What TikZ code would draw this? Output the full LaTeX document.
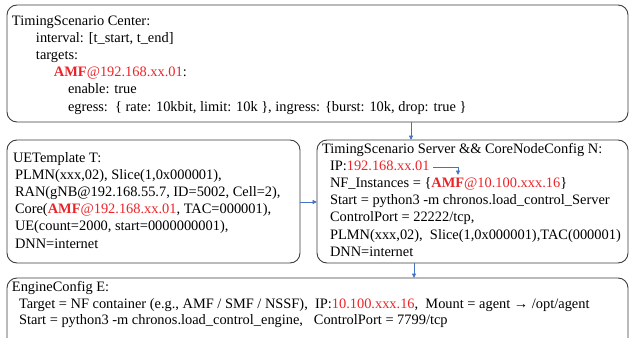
\documentclass[tikz,border=0pt]{standalone}
\usepackage{fontspec}
\setmainfont{Liberation Serif}
\usetikzlibrary{arrows.meta}
\definecolor{boxline}{RGB}{60,60,60}
\definecolor{arrblue}{RGB}{68,114,196}
\definecolor{hired}{RGB}{235,35,40}
\newcommand{\hl}[1]{\textcolor{hired}{#1}}
\newcommand{\hlb}[1]{\textcolor{hired}{\textbf{#1}}}
\begin{document}
\begin{tikzpicture}[x=1pt,y=-1pt,
  cbox/.style={draw=boxline, line width=0.9pt, rounded corners=10pt, inner sep=0pt, outer sep=0pt},
  txt/.style={anchor=north west, align=left, inner sep=0pt, outer sep=0pt,
    font=\fontsize{14.4}{17.2}\selectfont},
  arr/.style={draw=arrblue, line width=0.8pt, -{Triangle[length=4.5pt,width=4pt]}}]
\path[use as bounding box] (0,0) rectangle (631,337);
\clip (0,0) rectangle (631,337);
% boxes
\node[cbox, minimum width=621pt, minimum height=117pt] (top) at (317.5,63.5) {};
\node[cbox, minimum width=293pt, minimum height=123pt] (ue) at (153.5,201.5) {};
\node[cbox, minimum width=311pt, minimum height=123pt] (srv) at (472.5,201.5) {};
\node[cbox, minimum width=621pt, minimum height=70pt] (eng) at (317.5,313) {};
% texts
\node[txt] (ttop) at (12,12.96) {\strut TimingScenario Center:\\
\hspace*{24pt}interval: [t\_start, t\_end]\\
\hspace*{24pt}targets:\\
\hspace*{42pt}\hlb{AMF}\hl{@192.168.xx.01}:\\
\hspace*{56pt}enable: true\\
\hspace*{56pt}egress:\ \ \{ rate: 10kbit, limit: 10k \}, ingress: \{burst: 10k, drop: true \}};
\node[txt] (tue) at (13,149.96) {\strut UETemplate T:\\
\hspace*{2pt}PLMN(xxx,02), Slice(1,0x000001),\\
\hspace*{2pt}RAN(gNB@192.168.55.7, ID=5002, Cell=2),\\
\hspace*{2pt}Core(\hlb{AMF}\hl{@192.168.xx.01}, TAC=000001),\\
\hspace*{2pt}UE(count=2000, start=0000000001),\\
\hspace*{2pt}DNN=internet};
\node[txt] (tsrv) at (322,140.96) {\strut TimingScenario Server \&\& CoreNodeConfig N:\\
\hspace*{8pt}IP:\hl{192.168.xx.01}\\
\hspace*{8pt}NF\_Instances = \{\hlb{AMF}\hl{@10.100.xxx.16}\}\\
\hspace*{8pt}Start = python3 -m chronos.load\_control\_Server\\
\hspace*{8pt}ControlPort = 22222/tcp,\\
\hspace*{8pt}PLMN(xxx,02),\ \ Slice(1,0x000001),TAC(000001)\\
\hspace*{8pt}DNN=internet};
\node[txt, font=\fontsize{14.4}{16.6}\selectfont] (teng) at (12,279.96) {\strut EngineConfig E:\\
\hspace*{7pt}Target = NF container (e.g., AMF / SMF / NSSF),\ \ IP:\hl{10.100.xxx.16},\ \ Mount = agent → /opt/agent\\
\hspace*{7pt}Start = python3 -m chronos.load\_control\_engine,\ \ \ ControlPort = 7799/tcp};
% connectors
\coordinate (a1) at (411,0);
\coordinate (a2) at (0,202);
\coordinate (a3) at (414,0);
\draw[arr] (a1 |- top.south) -- (a1 |- srv.north);
\draw[arr] (ue.east |- a2) -- (srv.west |- a2);
\draw[arr] (a3 |- srv.south) -- (a3 |- eng.north);
\coordinate (ipend) at (433,167.5);
\coordinate (amftop) at (458,175);
\draw[arr] (ipend) -| (amftop);
\end{tikzpicture}
\end{document}
